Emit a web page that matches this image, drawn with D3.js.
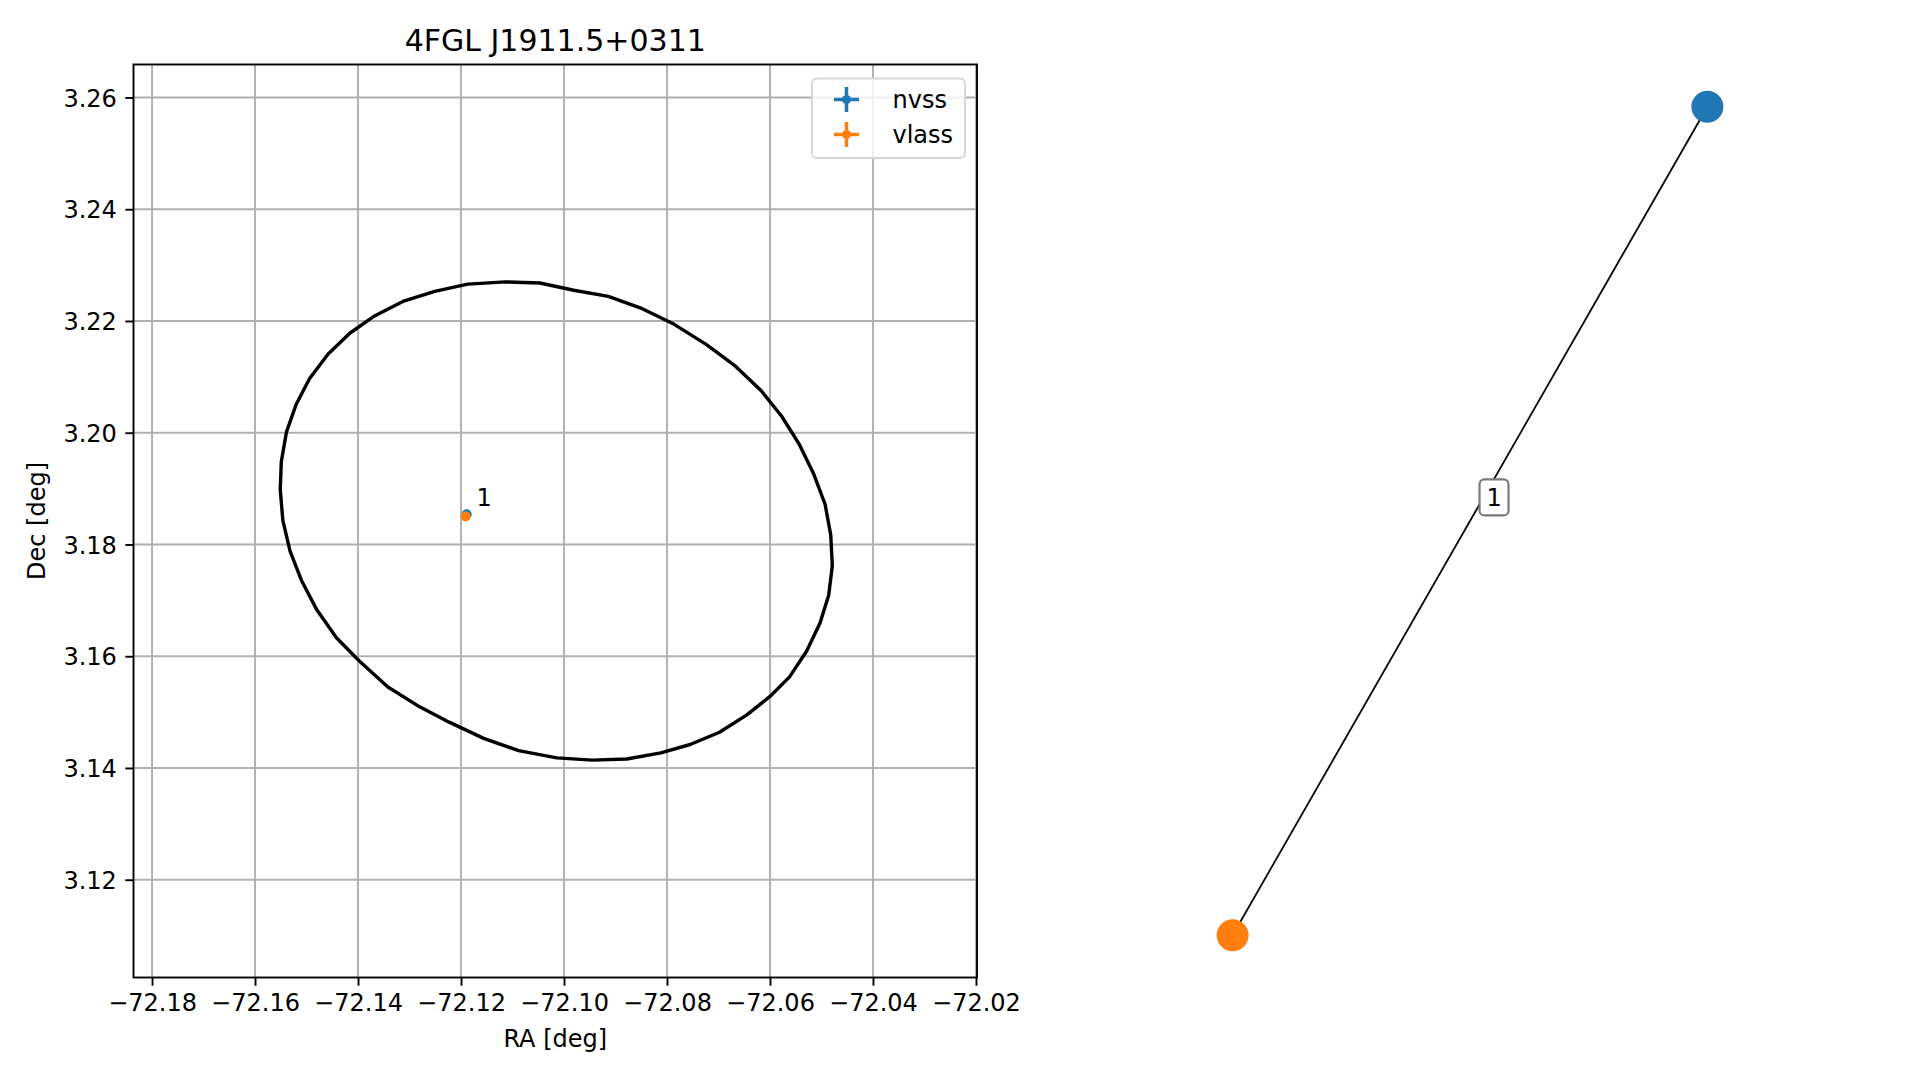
<!DOCTYPE html>
<html>
<head>
<meta charset="utf-8">
<script src="https://cdn.jsdelivr.net/npm/d3@7"></script>
<style>
  body { margin: 0; background: #fff; }
  svg { display: block; font-family: "DejaVu Sans", sans-serif; }
</style>
</head>
<body>
<div id="my_dataviz"></div>
<script>

// ---- data ----
var title = "4FGL J1911.5+0311"
var xTicks = [-72.18, -72.16, -72.14, -72.12, -72.10, -72.08, -72.06, -72.04, -72.02]
var yTicks = [3.12, 3.14, 3.16, 3.18, 3.20, 3.22, 3.24, 3.26]

// 4FGL error ellipse outline (RA, Dec vertices)
var ellipseRa = [-72.1551, -72.1549, -72.1539, -72.1520, -72.1494, -72.1458, -72.1416, -72.1368,
  -72.1313, -72.1251, -72.1187, -72.1114, -72.1047, -72.0981, -72.0914, -72.0848, -72.0786,
  -72.0724, -72.0667, -72.0617, -72.0577, -72.0543, -72.0515, -72.0493, -72.0482, -72.0479,
  -72.0486, -72.0503, -72.0529, -72.0562, -72.0600, -72.0645, -72.0698, -72.0755, -72.0812,
  -72.0878, -72.0945, -72.1014, -72.1088, -72.1156, -72.1223, -72.1285, -72.1342, -72.1397,
  -72.1442, -72.1480, -72.1510, -72.1532, -72.1546]
var ellipseDec = [3.1898, 3.1948, 3.2001, 3.2051, 3.2097, 3.2141, 3.2178, 3.2209,
  3.2235, 3.2253, 3.2266, 3.2270, 3.2268, 3.2255, 3.2244, 3.2222, 3.2194,
  3.2158, 3.2119, 3.2075, 3.2029, 3.1979, 3.1926, 3.1872, 3.1817, 3.1762,
  3.1709, 3.1659, 3.1609, 3.1563, 3.1528, 3.1495, 3.1464, 3.1442, 3.1427,
  3.1416, 3.1414, 3.1418, 3.1431, 3.1453, 3.1482, 3.1512, 3.1545, 3.1591,
  3.1633, 3.1683, 3.1736, 3.1788, 3.1843]

// radio sources
var surveys = ["nvss", "vlass"]
var srcRa = [-72.1189, -72.1191]
var srcDec = [3.1854, 3.1850]
var srcRaErr = [0.0002, 0.0001]
var srcDecErr = [0.0002, 0.0001]
var colors = ["#1f77b4", "#ff7f0e"]
var matchLabel = "1"
var matchLabelRa = -72.1170
var matchLabelDec = 3.1868

// graph panel (layout coordinates)
var nodeX = [0.573, -0.573]
var nodeY = [1.0, -1.0]
var edgeLabelX = 0.058
var edgeLabelY = 0.057

// ---- layout ----
var width = 1919, height = 1080
var ax = {left: 133.5, right: 977, top: 64.5, bottom: 977.5}
var fs = 24
var lw = 1.9

var svg = d3.select("#my_dataviz")
  .append("svg")
    .attr("width", width)
    .attr("height", height)

var x = d3.scaleLinear()
  .domain([-72.1836, -72.0198])
  .range([ax.left, ax.right])
var y = d3.scaleLinear()
  .domain([3.1025, 3.2659])
  .range([ax.bottom, ax.top])

var minus = function(v) { return d3.format(".2f")(v).replace("-", "\u2212") }

// grid
svg.append("g")
  .selectAll("line.vg")
  .data(xTicks)
  .enter().append("line")
    .attr("x1", function(d) { return x(d) }).attr("x2", function(d) { return x(d) })
    .attr("y1", ax.top).attr("y2", ax.bottom)
    .attr("stroke", "#b0b0b0").attr("stroke-width", lw)
svg.append("g")
  .selectAll("line.hg")
  .data(yTicks)
  .enter().append("line")
    .attr("y1", function(d) { return y(d) }).attr("y2", function(d) { return y(d) })
    .attr("x1", ax.left).attr("x2", ax.right)
    .attr("stroke", "#b0b0b0").attr("stroke-width", lw)

// ellipse
var ell = ellipseRa.map(function(r, i) { return [r, ellipseDec[i]] })
svg.append("path")
  .attr("d", d3.line().x(function(d) { return x(d[0]) }).y(function(d) { return y(d[1]) })(ell) + "Z")
  .attr("fill", "none")
  .attr("stroke", "black")
  .attr("stroke-width", 3.4)
  .attr("stroke-linejoin", "round")

// sources with error bars
surveys.forEach(function(s, i) {
  var g = svg.append("g")
  g.append("line")
    .attr("x1", x(srcRa[i] - srcRaErr[i])).attr("x2", x(srcRa[i] + srcRaErr[i]))
    .attr("y1", y(srcDec[i])).attr("y2", y(srcDec[i]))
    .attr("stroke", colors[i]).attr("stroke-width", 3.5)
  g.append("line")
    .attr("x1", x(srcRa[i])).attr("x2", x(srcRa[i]))
    .attr("y1", y(srcDec[i] - srcDecErr[i])).attr("y2", y(srcDec[i] + srcDecErr[i]))
    .attr("stroke", colors[i]).attr("stroke-width", 3.5)
  g.append("circle")
    .attr("cx", x(srcRa[i])).attr("cy", y(srcDec[i]))
    .attr("r", 5)
    .attr("fill", colors[i])
})

svg.append("text")
  .attr("x", x(matchLabelRa)).attr("y", y(matchLabelDec))
  .attr("font-size", fs)
  .text(matchLabel)

// axes
var xAxis = svg.append("g")
  .attr("transform", "translate(0," + ax.bottom + ")")
  .call(d3.axisBottom(x).tickValues(xTicks).tickFormat(minus).tickSize(8.2).tickPadding(8))
var yAxis = svg.append("g")
  .attr("transform", "translate(" + ax.left + ",0)")
  .call(d3.axisLeft(y).tickValues(yTicks).tickFormat(d3.format(".2f")).tickSize(8.2).tickPadding(8.5))

;[xAxis, yAxis].forEach(function(a) {
  a.select(".domain").remove()
  a.selectAll(".tick line").attr("stroke", "black").attr("stroke-width", lw)
  a.selectAll(".tick text")
    .attr("font-family", "DejaVu Sans")
    .attr("font-size", fs)
    .attr("fill", "black")
})
xAxis.selectAll(".tick text").attr("dy", "0.71em")
yAxis.selectAll(".tick text").attr("dy", "0.36em")

// frame
svg.append("rect")
  .attr("x", ax.left).attr("y", ax.top)
  .attr("width", ax.right - ax.left).attr("height", ax.bottom - ax.top)
  .attr("fill", "none").attr("stroke", "black").attr("stroke-width", lw)

// labels
svg.append("text")
  .attr("x", (ax.left + ax.right) / 2).attr("y", 50.5)
  .attr("text-anchor", "middle").attr("font-size", 30)
  .text(title)
svg.append("text")
  .attr("x", (ax.left + ax.right) / 2).attr("y", 1047)
  .attr("text-anchor", "middle").attr("font-size", fs)
  .text("RA [deg]")
svg.append("text")
  .attr("transform", "translate(45," + (ax.top + ax.bottom) / 2 + ") rotate(-90)")
  .attr("text-anchor", "middle").attr("font-size", fs)
  .text("Dec [deg]")

// legend
var leg = svg.append("g")
leg.append("rect")
  .attr("x", 812).attr("y", 78.5).attr("width", 153).attr("height", 79.5)
  .attr("rx", 5).attr("ry", 5)
  .attr("fill", "white").attr("fill-opacity", 0.8)
  .attr("stroke", "#d6d6d6").attr("stroke-width", lw)
surveys.forEach(function(s, i) {
  var cy = 99.5 + i * 35, cx = 846.5
  leg.append("line").attr("x1", cx - 12.5).attr("x2", cx + 12.5).attr("y1", cy).attr("y2", cy)
    .attr("stroke", colors[i]).attr("stroke-width", 3.5)
  leg.append("line").attr("x1", cx).attr("x2", cx).attr("y1", cy - 12.5).attr("y2", cy + 12.5)
    .attr("stroke", colors[i]).attr("stroke-width", 3.5)
  leg.append("circle").attr("cx", cx).attr("cy", cy).attr("r", 4.5).attr("fill", colors[i])
  leg.append("text").attr("x", 892.5).attr("y", cy + 8.5)
    .attr("font-size", fs).text(s)
})

// ---- graph panel ----
var gx = d3.scaleLinear().domain([-1.038, 1.038]).range([1040, 1900])
var gy = d3.scaleLinear().domain([-1.102, 1.102]).range([977.5, 64.5])

svg.append("line")
  .attr("x1", gx(nodeX[0])).attr("y1", gy(nodeY[0]))
  .attr("x2", gx(nodeX[1])).attr("y2", gy(nodeY[1]))
  .attr("stroke", "black").attr("stroke-width", 1.8)

svg.selectAll("circle.node")
  .data(surveys)
  .enter().append("circle")
    .attr("class", "node")
    .attr("cx", function(d, i) { return gx(nodeX[i]) })
    .attr("cy", function(d, i) { return gy(nodeY[i]) })
    .attr("r", 16)
    .attr("fill", function(d, i) { return colors[i] })

var lbx = gx(edgeLabelX), lby = gy(edgeLabelY)
svg.append("rect")
  .attr("x", lbx - 14.5).attr("y", lby - 18).attr("width", 29).attr("height", 36)
  .attr("rx", 5).attr("ry", 5)
  .attr("fill", "white").attr("stroke", "#7a7a7a").attr("stroke-width", 2.2)
svg.append("text")
  .attr("x", lbx).attr("y", lby + 8.5)
  .attr("text-anchor", "middle").attr("font-size", fs)
  .text(matchLabel)

</script>
</body>
</html>
